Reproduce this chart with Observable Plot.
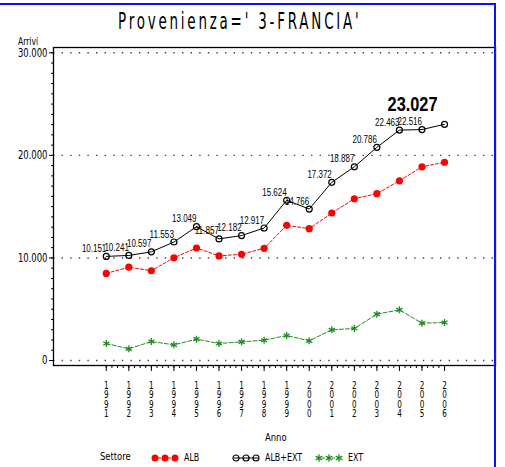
<!DOCTYPE html>
<html><head><meta charset="utf-8">
<script src="https://cdn.jsdelivr.net/npm/d3@7"></script>
<script src="https://cdn.jsdelivr.net/npm/@observablehq/plot@0.6"></script>
<style>
body{margin:0;background:#fff;}
#wrap{position:relative;width:505px;height:467px;overflow:hidden;background:#fff;}
.abs{position:absolute;white-space:nowrap;line-height:1;}
.sas{font-family:"DejaVu Sans Condensed",sans-serif;color:#000;}
#title{left:118px;top:10px;font-size:23px;letter-spacing:4.3px;font-family:"DejaVu Sans Condensed",sans-serif;transform-origin:left top;transform:scaleX(0.65);}
#border{position:absolute;left:0;top:3px;width:494px;height:480px;border-top:2px solid #1010ff;border-right:2px solid #1010ff;pointer-events:none;}
.leg{display:flex;align-items:center;position:absolute;top:451px;font-size:11px;}
.leg svg{margin-right:5px;}
.leg span{display:inline-block;transform:scaleX(0.8);transform-origin:left center;}
</style></head><body><div id="wrap"></div>
<script>
// ---- data ----
const years = [1991,1992,1993,1994,1995,1996,1997,1998,1999,2000,2001,2002,2003,2004,2005,2006];
const alb   = [8490,9100,8750,10020,10970,10200,10360,10940,13180,12850,14380,15770,16270,17520,18880,19330];
const albExt= [10151,10241,10597,11553,13049,11857,12182,12917,15624,14766,17372,18887,20786,22463,22516,23027];
const ext   = [1660,1140,1850,1530,2080,1660,1820,1980,2440,1920,2990,3120,4520,4940,3640,3700];
const yTicks = [0,10000,20000,30000];
const yMinor = d3.range(0,30001,1000);
const xMinor = d3.range(1991,2006.01,0.25);
const seriesNames = ["ALB","ALB+EXT","EXT"];
const colors = {"ALB":"#ff0000","ALB+EXT":"#000000","EXT":"#1e8c1e"};

const fmt = d3.formatLocale({decimal:",",thousands:".",grouping:[3],currency:["€",""]}).format(",d");
const rows = years.map((y,i)=>({year:y, alb:alb[i], tot:albExt[i], ext:ext[i]}));
const lastRow = rows[rows.length-1];
const axisFont = "DejaVu Sans Condensed, sans-serif";
const labelFont = "Liberation Sans, Arial, sans-serif";

const chart = Plot.plot({
  width:505, height:467,
  marginLeft:53, marginRight:10, marginTop:47, marginBottom:102,
  style:{background:"transparent", fontFamily:axisFont, color:"#000"},
  x:{domain:[1988.66,2008.26], axis:null},
  y:{domain:[-487,30517], axis:null},
  marks:[
    Plot.ruleY(yTicks,{stroke:"#444", strokeWidth:1.4, strokeDasharray:"1.4,7.2"}),
    Plot.frame({stroke:"#000", strokeWidth:1.3}),
    Plot.axisY({ticks:yMinor, tickSize:2, fill:"none", label:null, stroke:"#000"}),
    Plot.axisY({ticks:yTicks, tickSize:4, tickPadding:2, tickFormat:fmt, fontSize:12, label:null, stroke:"#000", ariaDescription:"ylab"}),
    Plot.axisX({ticks:xMinor, tickSize:3, fill:"none", label:null, stroke:"#000"}),
    Plot.axisX({ticks:years, tickSize:6, fill:"none", label:null, stroke:"#000"}),
    Plot.text(years,{x:d=>d, text:d=>String(d).split("").join("\n"), frameAnchor:"bottom", lineAnchor:"top", dy:17, lineHeight:0.85, fontSize:11, ariaDescription:"xlab"}),
    // EXT
    Plot.line(rows,{x:"year", y:"ext", stroke:colors["EXT"], strokeWidth:1, strokeDasharray:"4,2"}),
    Plot.dot(rows,{x:"year", y:"ext", symbol:"asterisk", stroke:colors["EXT"], r:3.3, strokeWidth:1.3}),
    // ALB
    Plot.line(rows,{x:"year", y:"alb", stroke:colors["ALB"], strokeWidth:1, strokeDasharray:"3,2"}),
    Plot.dot(rows,{x:"year", y:"alb", fill:colors["ALB"], r:3.6}),
    // ALB+EXT
    Plot.line(rows,{x:"year", y:"tot", stroke:colors["ALB+EXT"], strokeWidth:1}),
    Plot.dot(rows,{x:"year", y:"tot", stroke:colors["ALB+EXT"], fill:"none", r:3, strokeWidth:1.2}),
    Plot.text(rows.slice(0,-1),{x:"year", y:"tot", text:d=>fmt(d.tot), textAnchor:"end", dy:-8, fontSize:11, fontFamily:labelFont, ariaDescription:"totlab"}),
    Plot.text([lastRow],{x:"year", y:"tot", text:d=>fmt(d.tot), textAnchor:"end", dx:-7, dy:-20, fontSize:21, fontWeight:"bold", fontFamily:labelFont, ariaDescription:"biglab"})
  ]
});

const wrap = document.getElementById("wrap");
wrap.appendChild(chart);
chart.style.position="absolute"; chart.style.left="0"; chart.style.top="0";

// condense texts to match the narrow original fonts
const sel = d3.select(chart);
function squeeze(selector, digitW, dotW){
  sel.selectAll(selector).each(function(){
    const t=this.textContent; const n=t.replace(/[^0-9]/g,"").length; const m=t.length-n;
    d3.select(this).attr("textLength", n*digitW+m*dotW).attr("lengthAdjust","spacingAndGlyphs");
  });
}
squeeze('g[aria-description="totlab"] text',4.4,2.4);
squeeze('g[aria-description="biglab"] text',9.2,4);
squeeze('g[aria-description="ylab"] text',5.4,2.6);
sel.selectAll('g[aria-description="xlab"] tspan').attr("textLength",4.6).attr("lengthAdjust","spacingAndGlyphs");

function addText(id, cls, txt, css){
  const d=document.createElement("div"); if(id) d.id=id; d.className="abs "+cls; d.textContent=txt;
  Object.assign(d.style, css||{}); wrap.appendChild(d); return d;
}
addText("title","","Provenienza=' 3-FRANCIA'");
addText(null,"sas","Arrivi",{left:"18px",top:"37px",fontSize:"10px",transform:"scaleX(0.85)",transformOrigin:"left top"});
addText(null,"sas","Anno",{left:"265px",top:"432px",fontSize:"11px",transform:"scaleX(0.85)",transformOrigin:"left top"});
addText(null,"sas","Settore",{left:"100px",top:"451px",fontSize:"11px",transform:"scaleX(0.85)",transformOrigin:"left top"});

function symbolSvg(name){
  const c=colors[name];
  const s=d3.create("svg").attr("width",28).attr("height",10);
  const xs=[4,14,24];
  s.append("line").attr("x1",2).attr("x2",26).attr("y1",5).attr("y2",5).attr("stroke",c).attr("stroke-dasharray",name==="ALB+EXT"?null:"3,2");
  xs.forEach(x=>{
    if(name==="ALB") s.append("circle").attr("cx",x).attr("cy",5).attr("r",3.5).attr("fill",c);
    else if(name==="ALB+EXT") s.append("circle").attr("cx",x).attr("cy",5).attr("r",3).attr("fill","none").attr("stroke",c).attr("stroke-width",1.2);
    else s.append("path").attr("d",d3.symbol(d3.symbolAsterisk,40)()).attr("transform",`translate(${x},5)`).attr("stroke",c).attr("stroke-width",1.3).attr("fill","none");
  });
  return s.node();
}
const legLeft = {"ALB":151,"ALB+EXT":232,"EXT":315};
seriesNames.forEach(n=>{
  const g=document.createElement("div"); g.className="leg sas"; g.style.left=legLeft[n]+"px";
  g.appendChild(symbolSvg(n)); const t=document.createElement("span"); t.textContent=n; g.appendChild(t);
  wrap.appendChild(g);
});
const b=document.createElement("div"); b.id="border"; wrap.appendChild(b);
</script></body></html>
